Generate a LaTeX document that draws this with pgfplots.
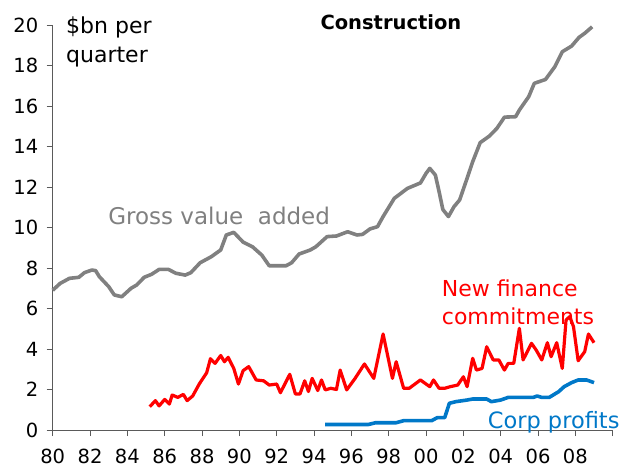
\documentclass[border=0pt]{standalone}
\usepackage{pgfplots}
\pgfplotsset{compat=1.18}
\usepackage{fontspec}
\setmainfont{DejaVu Sans}
\definecolor{gva}{RGB}{128,128,128}
\definecolor{nfc}{RGB}{255,0,0}
\definecolor{cp}{RGB}{0,120,200}
\definecolor{axc}{RGB}{90,90,90}
\begin{document}
\begin{tikzpicture}
\path[use as bounding box] (-52.7bp,-46bp) rectangle (570.3bp,430bp);
\begin{axis}[
 scale only axis, width=560bp, height=405bp,
 xmin=80,xmax=110,ymin=0,ymax=20,
 axis x line*=bottom, axis y line*=left,
 axis line style={axc, line width=0.8bp, -},
 xtick={80,82,...,110},
 xticklabels={80,82,84,86,88,90,92,94,96,98,00,02,04,06,08,},
 ytick={0,2,...,20},
 tick align=outside,
 major tick length=6bp,
 tick style={axc, line width=0.8bp},
 tick label style={font=\fontsize{19.5bp}{20bp}\selectfont, black},
 /pgf/number format/assume math mode=true,
 yticklabel style={xshift=-5bp},
 xticklabel style={yshift=-10bp},
 clip=false,
]
\addplot[gva, line width=3.6bp, line join=round] coordinates {
(80.0,6.9)(80.4,7.24)(80.9,7.49)(81.4,7.54)(81.7,7.77)(82.1,7.90)(82.3,7.87)(82.5,7.57)(83.0,7.08)(83.3,6.67)(83.7,6.58)(84.2,7.0)(84.5,7.16)(84.9,7.54)(85.3,7.69)(85.7,7.93)(86.2,7.93)(86.6,7.74)(87.1,7.65)(87.4,7.77)(87.9,8.26)(88.5,8.56)(89.0,8.89)(89.3,9.63)(89.7,9.76)(90.2,9.28)(90.7,9.05)(91.2,8.64)(91.6,8.11)(92.5,8.11)(92.8,8.26)(93.2,8.69)(93.8,8.89)(94.1,9.05)(94.7,9.55)(95.2,9.58)(95.8,9.79)(96.3,9.63)(96.6,9.66)(97.0,9.93)(97.4,10.04)(97.7,10.54)(98.3,11.44)(99.0,11.93)(99.7,12.2)(100.0,12.67)(100.2,12.92)(100.5,12.59)(100.7,11.77)(100.9,10.89)(101.2,10.54)(101.5,11.03)(101.8,11.36)(102.2,12.43)(102.5,13.25)(102.9,14.19)(103.4,14.52)(103.8,14.90)(104.2,15.45)(104.8,15.47)(105.0,15.80)(105.5,16.46)(105.8,17.12)(106.4,17.31)(106.9,17.94)(107.3,18.68)(107.8,18.96)(108.2,19.39)(108.5,19.59)(108.9,19.91)
};
\addplot[nfc, line width=3.2bp, line join=round] coordinates {
(85.2,1.15)(85.5,1.45)(85.7,1.19)(86.0,1.51)(86.25,1.28)(86.4,1.73)(86.7,1.61)(87.0,1.76)(87.2,1.45)(87.5,1.68)(87.85,2.27)(88.25,2.83)(88.45,3.52)(88.7,3.29)(89.0,3.68)(89.2,3.37)(89.4,3.59)(89.7,3.04)(89.95,2.27)(90.2,2.93)(90.5,3.13)(90.9,2.47)(91.3,2.43)(91.6,2.22)(92.0,2.27)(92.2,1.84)(92.7,2.75)(93.0,1.78)(93.25,1.78)(93.5,2.43)(93.7,1.9)(93.9,2.55)(94.2,1.95)(94.4,2.47)(94.6,1.98)(94.9,2.06)(95.2,2.0)(95.4,2.96)(95.75,1.98)(96.2,2.55)(96.7,3.26)(97.2,2.55)(97.7,4.74)(98.2,2.55)(98.4,3.37)(98.8,2.06)(99.1,2.06)(99.7,2.47)(100.2,2.14)(100.4,2.47)(100.7,2.06)(101.0,2.06)(101.3,2.14)(101.7,2.22)(102.0,2.63)(102.2,2.14)(102.5,3.54)(102.7,2.96)(103.0,3.04)(103.25,4.11)(103.6,3.46)(103.9,3.46)(104.2,2.96)(104.4,3.29)(104.7,3.29)(105.0,5.02)(105.2,3.46)(105.65,4.28)(105.9,3.95)(106.2,3.46)(106.5,4.31)(106.7,3.62)(107.0,4.31)(107.3,3.04)(107.5,5.43)(107.7,5.60)(107.9,5.10)(108.15,3.42)(108.5,3.87)(108.7,4.74)(109.0,4.31)
};
\addplot[cp, line width=3.6bp, line join=round] coordinates {
(94.6,0.27)(96.9,0.27)(97.3,0.36)(98.4,0.36)(98.8,0.46)(100.3,0.46)(100.6,0.61)(101.0,0.61)(101.25,1.32)(101.6,1.40)(102.2,1.48)(102.5,1.53)(103.25,1.53)(103.5,1.40)(104.0,1.48)(104.4,1.61)(105.75,1.61)(105.95,1.68)(106.2,1.61)(106.6,1.61)(107.1,1.89)(107.4,2.14)(107.8,2.34)(108.15,2.47)(108.6,2.47)(109.0,2.34)
};
\node[anchor=base, inner sep=0, font=\bfseries\fontsize{19.5bp}{20bp}\selectfont] at (axis cs:98.12,19.8) {Construction};
\node[anchor=base west, inner sep=0, font=\fontsize{22bp}{24bp}\selectfont] at (axis cs:80.71,19.6) {\$bn per};
\node[anchor=base west, inner sep=0, font=\fontsize{22bp}{24bp}\selectfont] at (axis cs:80.71,18.17) {quarter};
\node[anchor=base west, inner sep=0, text=gva, font=\fontsize{23bp}{24bp}\selectfont] at (axis cs:82.97,10.17) {Gross value\ \ added};
\node[anchor=base west, inner sep=0, text=nfc, font=\fontsize{22bp}{24bp}\selectfont] at (axis cs:100.84,6.58) {New finance};
\node[anchor=base west, inner sep=0, text=nfc, font=\fontsize{22bp}{24bp}\selectfont] at (axis cs:100.84,5.22) {commitments};
\node[anchor=base west, inner sep=0, text=cp, font=\fontsize{22.5bp}{24bp}\selectfont] at (axis cs:103.3,0.05) {Corp profits};
\end{axis}
\end{tikzpicture}
\end{document}
